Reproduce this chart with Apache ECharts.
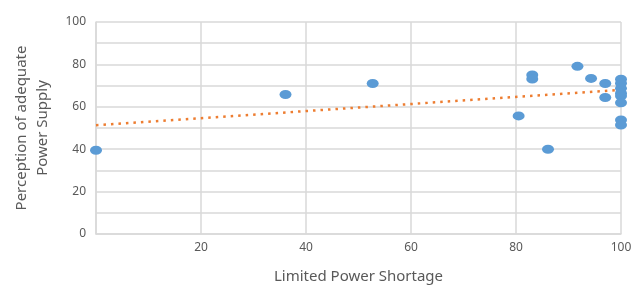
<!DOCTYPE html>
<html>
<head>
    <meta charset="utf-8">
    <title>Power supply scatter</title>
    <script src="https://cdn.jsdelivr.net/npm/echarts@6/dist/echarts.min.js"></script>
</head>
<body style="margin:0">
<div id="main" style="width: 644px;height:288px;"></div>

<script type="text/javascript">
    // points: [limited power shortage, perception of adequate supply]
    var shortageX = [0, 36.1, 52.7, 80.5, 83.1, 83.1, 86.1, 91.7, 94.3, 97.0, 97.0,
        100, 100, 100, 100, 100, 100, 100, 100];
    var perceptionY = [39.5, 65.8, 71.0, 55.7, 75.0, 73.1, 40.0, 79.1, 73.4, 71.0, 64.4,
        73.0, 71.1, 68.7, 66.4, 65.1, 61.9, 53.8, 51.4];
    // linear trend line ends
    var trendX = [0, 100];
    var trendY = [51.3, 68.0];

    var pts = [];
    for (var i = 0; i < shortageX.length; i++) {
        pts.push([shortageX[i], perceptionY[i]]);
    }
    var trend = [];
    for (var j = 0; j < trendX.length; j++) {
        trend.push([trendX[j], trendY[j]]);
    }

    var myChart = echarts.init(document.getElementById('main'));
    var txt = '#595959';
    var gridCol = '#d9d9d9';

    myChart.setOption({
        animation: false,
        textStyle: {fontFamily: 'Noto Sans'},
        grid: {left: 96, right: 23, top: 22, bottom: 54, containLabel: false, outerBoundsMode: 'none'},
        xAxis: {
            type: 'value',
            min: 0, max: 100, interval: 20,
            name: 'Limited Power Shortage',
            nameLocation: 'middle',
            nameGap: 35,
            nameTextStyle: {color: txt, fontSize: 15, fontFamily: 'Noto Sans'},
            axisLine: {show: true, lineStyle: {color: gridCol, width: 1.5}},
            axisTick: {show: false},
            axisLabel: {
                color: txt, fontSize: 12, margin: 8,
                formatter: function (v) { return v === 0 ? '' : v; }
            },
            splitLine: {show: true, lineStyle: {color: gridCol, width: 1.5}}
        },
        yAxis: {
            type: 'value',
            min: 0, max: 100, interval: 10,
            name: 'Perception of adequate\nPower Supply',
            nameLocation: 'middle',
            nameGap: 43,
            nameTextStyle: {color: txt, fontSize: 15, lineHeight: 21, fontFamily: 'Noto Sans'},
            axisLine: {show: true, lineStyle: {color: gridCol, width: 1.5}},
            axisTick: {show: false},
            axisLabel: {
                color: txt, fontSize: 12, margin: 10,
                formatter: function (v) { return v % 20 === 0 ? v : ''; }
            },
            splitLine: {show: true, lineStyle: {color: gridCol, width: 1.5}}
        },
        series: [
            {
                type: 'line',
                data: trend,
                symbol: 'none',
                lineStyle: {color: '#ED7D31', width: 2.5, type: [2.5, 5]},
                z: 2
            },
            {
                type: 'scatter',
                data: pts,
                symbol: 'circle',
                symbolSize: [12, 9],
                itemStyle: {color: '#5B9BD5', opacity: 1},
                z: 3
            }
        ]
    });
</script>
</body>
</html>
